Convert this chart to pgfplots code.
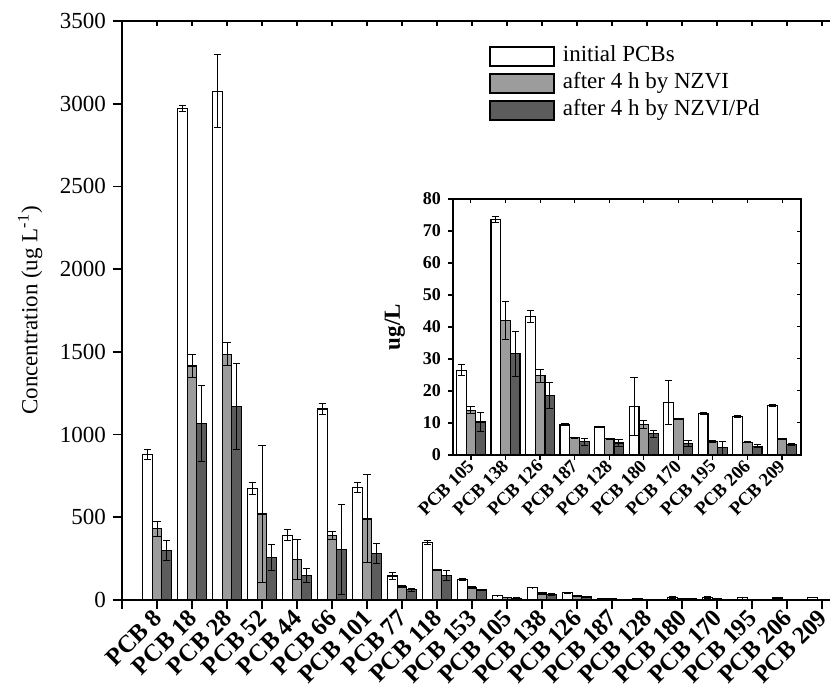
\documentclass[border=0pt]{standalone}
\usepackage{fontspec}
\setmainfont{Liberation Serif}
\usepackage{pgfplots}
\usepackage{pgfplotstable}
\pgfplotsset{compat=1.18}

\definecolor{barmid}{RGB}{156,156,156}
\definecolor{bardark}{RGB}{92,92,92}

% main chart: all congeners (ug/L), value and error
\pgfplotstableread{
idx white werr mid merr dark derr
0  880   30   430   45   300  60
1  2970  20   1415  70   1065 230
2  3075  220  1485  70   1170 260
3  675   35   520   415  258  80
4  392   32   245   123  150  42
5  1155  33   388   24   305  270
6  680   33   490   266  280  60
7  145   22   80    5    62   8
8  347   10   181   5    150  30
9  123   5    74    5    60   5
10 26.5  1.8  14.0  1.0  10.3 3.0
11 73.6  1.0  42.0  6.0  31.6 7.0
12 43.3  2.0  24.8  2.0  18.5 4.0
13 9.5   0.2  5.4   0.2  4.1  1.0
14 8.75  0.3  5.1   0.2  3.75 1.0
15 15.1  9.0  9.6   1.2  6.6  1.0
16 16.4  7.0  11.25 0.2  3.5  1.0
17 13.0  0.2  4.2   0.3  2.3  2.0
18 12.0  0.2  4.0   0.2  2.7  0.5
19 15.5  0.2  5.1   0.2  3.4  0.3
}\maindata

% inset: the ten low congeners
\pgfplotstableread{
idx white werr mid merr dark derr
0 26.5  1.8  14.0  1.0  10.3 3.0
1 73.6  1.0  42.0  6.0  31.6 7.0
2 43.3  2.0  24.8  2.0  18.5 4.0
3 9.5   0.2  5.4   0.2  4.1  1.0
4 8.75  0.3  5.1   0.2  3.75 1.0
5 15.1  9.0  9.6   1.2  6.6  1.0
6 16.4  7.0  11.25 0.2  3.5  1.0
7 13.0  0.2  4.2   0.3  2.3  2.0
8 12.0  0.2  4.0   0.2  2.7  0.5
9 15.5  0.2  5.1   0.2  3.4  0.3
}\insetdata

\pgfplotsset{
  pcbbar/.style={draw=black, line width=0.6pt,
    legend image code/.code={\draw[##1, line width=0.8pt] (0pt,-4.75pt) rectangle (32pt,4.75pt);},
    error bars/y dir=both, error bars/y explicit,
    error bars/error bar style={line width=0.5pt, black},
    error bars/error mark options={rotate=90, mark size=1.8pt, line width=0.5pt, black}},
}

\begin{document}
\begin{tikzpicture}
  % ---------------- main chart ----------------
  \begin{axis}[
    at={(61pt,44.5pt)}, anchor=south west,
    scale only axis, width=359pt, height=289.5pt,
    xmin=-1, xmax=19.514, ymin=0, ymax=3500,
    ybar=0pt, bar width=4.85pt,
    xtick={0,...,19},
    xticklabels={PCB 8, PCB 18, PCB 28, PCB 52, PCB 44, PCB 66, PCB 101, PCB 77, PCB 118, PCB 153,
                 PCB 105, PCB 138, PCB 126, PCB 187, PCB 128, PCB 180, PCB 170, PCB 195, PCB 206, PCB 209},
    extra x ticks={-1}, extra x tick labels={},
    ytick={0,500,...,3500},
    xtick pos=bottom, ytick pos=left, tick align=outside,
    major tick length=4.5pt,
    axis line style={line width=0.9pt},
    every tick/.style={black, line width=0.8pt},
    xticklabel style={rotate=45, anchor=east, inner sep=0.5pt, xshift=-0.8pt, yshift=-2pt,
                      font=\fontsize{12.3}{13}\selectfont\bfseries},
    yticklabel style={font=\fontsize{11.5}{12}\selectfont},
    /pgf/number format/assume math mode=true,
    /pgf/number format/1000 sep={},
    ylabel={Concentration (ug L\textsuperscript{-1})},
    ylabel style={font=\fontsize{11.5}{12}\selectfont, at={(axis description cs:-0.128,0.5)}, anchor=center},
    legend style={draw=none, fill=none, at={(0.511,0.961)}, anchor=north west,
                  font=\fontsize{11.5}{12}\selectfont, row sep=1pt, inner sep=0pt,
                  nodes={inner sep=0.5pt, text height=8.5pt, text depth=3pt},
                  /tikz/every odd column/.append style={column sep=3.5pt}},
    legend cell align=left,
  ]
    \addplot[fill=white, pcbbar] table[x=idx, y=white, y error=werr] {\maindata};
    \addplot[fill=barmid, pcbbar] table[x=idx, y=mid, y error=merr] {\maindata};
    \addplot[fill=bardark, pcbbar] table[x=idx, y=dark, y error=derr] {\maindata};
    \legend{initial PCBs, after 4 h by NZVI, after 4 h by NZVI/Pd}
  \end{axis}
  % top ticks of the main frame
  \begin{axis}[
    at={(61pt,44.5pt)}, anchor=south west,
    scale only axis, width=359pt, height=289.5pt,
    xmin=-1, xmax=19.514, ymin=0, ymax=3500,
    axis x line*=top, axis y line=none,
    axis line style={line width=0.9pt},
    xtick={-1,...,19}, xticklabels={}, tick align=inside,
    major tick length=2.5pt, every tick/.style={black, line width=0.6pt},
  ]
  \end{axis}

  % ---------------- inset ----------------
  \begin{axis}[
    at={(226.5pt,117pt)}, anchor=south west,
    scale only axis, width=174pt, height=128pt,
    axis background/.style={fill=white},
    xmin=-0.52, xmax=9.55, ymin=0, ymax=80,
    ybar=0pt, bar width=4.85pt,
    xtick={0,...,9},
    xticklabels={PCB 105, PCB 138, PCB 126, PCB 187, PCB 128, PCB 180, PCB 170, PCB 195, PCB 206, PCB 209},
    ytick={0,10,...,80},
    xtick pos=bottom, ytick pos=left, tick align=outside,
    major tick length=2.5pt,
    axis line style={line width=0.6pt},
    every tick/.style={black, line width=0.6pt},
    xticklabel style={rotate=45, anchor=east, inner sep=1pt, yshift=-1pt,
                      font=\fontsize{9.3}{10}\selectfont\bfseries},
    yticklabel style={font=\fontsize{9}{10}\selectfont\bfseries},
    /pgf/number format/assume math mode=true,
    ylabel={ug/L},
    ylabel style={font=\fontsize{11.5}{12}\selectfont\bfseries, at={(axis description cs:-0.167,0.5)}, anchor=center},
  ]
    \addplot[fill=white, pcbbar] table[x=idx, y=white, y error=werr] {\insetdata};
    \addplot[fill=barmid, pcbbar] table[x=idx, y=mid, y error=merr] {\insetdata};
    \addplot[fill=bardark, pcbbar] table[x=idx, y=dark, y error=derr] {\insetdata};
  \end{axis}
  % inward ticks on top and right of the inset
  \begin{axis}[
    at={(226.5pt,117pt)}, anchor=south west,
    scale only axis, width=174pt, height=128pt,
    xmin=-0.52, xmax=9.55, ymin=0, ymax=80,
    axis x line*=top, axis y line*=right,
    axis line style={line width=0.6pt},
    xtick={0,...,9}, ytick={0,10,...,80},
    xticklabels={}, yticklabels={}, tick align=inside,
    major tick length=2pt, every tick/.style={black, line width=0.5pt},
  ]
  \end{axis}

  \pgfresetboundingbox
  \useasboundingbox (0,0) rectangle (415pt,344.5pt);
\end{tikzpicture}
\end{document}
